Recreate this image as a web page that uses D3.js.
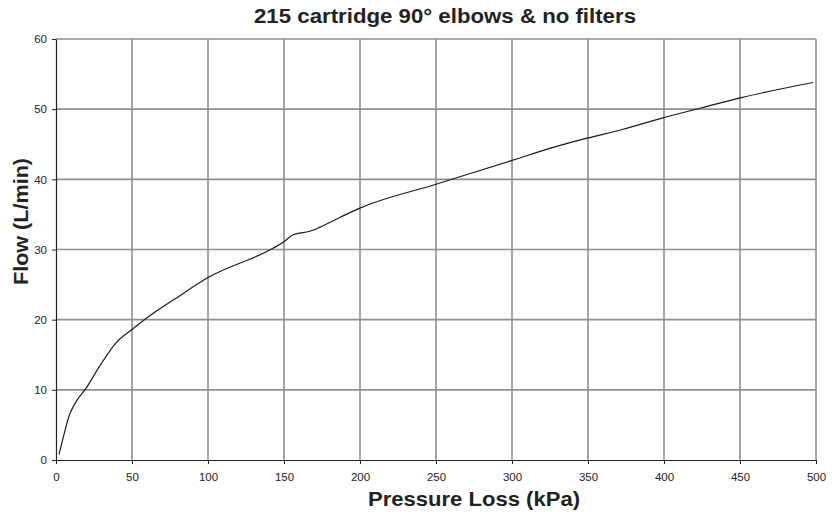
<!DOCTYPE html>
<html><head><meta charset="utf-8">
<script src="https://cdn.jsdelivr.net/npm/d3@7"></script>
<style>body{margin:0;background:#fff}svg{display:block}text{font-family:"Liberation Sans",Arial,Helvetica,sans-serif}</style>
</head><body><svg id="c" width="832" height="512"></svg>
<script>
const pressure = [2, 4.4, 8.8, 13.2, 19.7, 28.5, 39.5, 50, 65.8, 77.8, 100, 143, 150, 156, 167, 187, 200, 250, 300, 331, 350, 372.5, 400, 425, 450, 498];
const flow     = [0.8, 2.9, 6.4, 8.3, 10.2, 13.3, 16.7, 18.6, 21.2, 22.9, 26.0, 30.2, 31.1, 32.1, 32.6, 34.6, 35.9, 39.3, 42.7, 44.8, 45.9, 47.1, 48.8, 50.2, 51.6, 53.8];
const xTicks = [0, 50, 100, 150, 200, 250, 300, 350, 400, 450, 500];
const yTicks = [0, 10, 20, 30, 40, 50, 60];
const title = "215 cartridge 90° elbows & no filters";
const xTitle = "Pressure Loss (kPa)";
const yTitle = "Flow (L/min)";

const svg = d3.select("#c");
const L = 56, R = 816, T = 39, B = 460;
const x = d3.scaleLinear().domain([0, 500]).range([L, R]);
const y = d3.scaleLinear().domain([0, 60]).range([B, T]);

// grid
svg.append("g").selectAll("line").data(xTicks.filter(d => d > 0)).join("line")
  .attr("x1", d => x(d)).attr("x2", d => x(d)).attr("y1", T).attr("y2", B)
  .attr("stroke", "#8f8f94").attr("stroke-width", 1.6);
svg.append("g").selectAll("line").data(yTicks.filter(d => d > 0)).join("line")
  .attr("x1", L).attr("x2", R).attr("y1", d => y(d)).attr("y2", d => y(d))
  .attr("stroke", "#8f8f94").attr("stroke-width", 1.6);

// axes
const xa = svg.append("g").attr("transform", `translate(0,${B})`)
  .call(d3.axisBottom(x).tickValues(xTicks).tickSize(4).tickPadding(9).tickSizeOuter(0));
const ya = svg.append("g").attr("transform", `translate(${L},0)`)
  .call(d3.axisLeft(y).tickValues(yTicks).tickSize(4).tickPadding(5).tickSizeOuter(0));
[xa, ya].forEach(a => {
  a.select(".domain").attr("stroke", "#222").attr("stroke-width", 1.2);
  a.selectAll(".tick line").attr("stroke", "#222");
  a.selectAll(".tick text").attr("font-size", 11.5).attr("fill", "#222")
    .style("font-family", '"Liberation Sans",Arial,sans-serif');
});

// line
const data = pressure.map((p, i) => [p, flow[i]]);
svg.append("path").datum(data)
  .attr("fill", "none").attr("stroke", "#1a1a1a").attr("stroke-width", 1.2)
  .attr("d", d3.line().x(d => x(d[0])).y(d => y(d[1])).curve(d3.curveMonotoneX));

// titles
svg.append("text").attr("x", 254).attr("y", 23)
  .attr("font-size", 20).attr("font-weight", "bold").attr("fill", "#222")
  .attr("textLength", 382).attr("lengthAdjust", "spacingAndGlyphs").text(title);
svg.append("text").attr("x", 368).attr("y", 506)
  .attr("font-size", 21).attr("font-weight", "bold").attr("fill", "#222")
  .attr("textLength", 212).attr("lengthAdjust", "spacingAndGlyphs").text(xTitle);
svg.append("text").attr("transform", "translate(28,285) rotate(-90)")
  .attr("font-size", 20).attr("font-weight", "bold").attr("fill", "#222")
  .attr("textLength", 127).attr("lengthAdjust", "spacingAndGlyphs").text(yTitle);
</script></body></html>
